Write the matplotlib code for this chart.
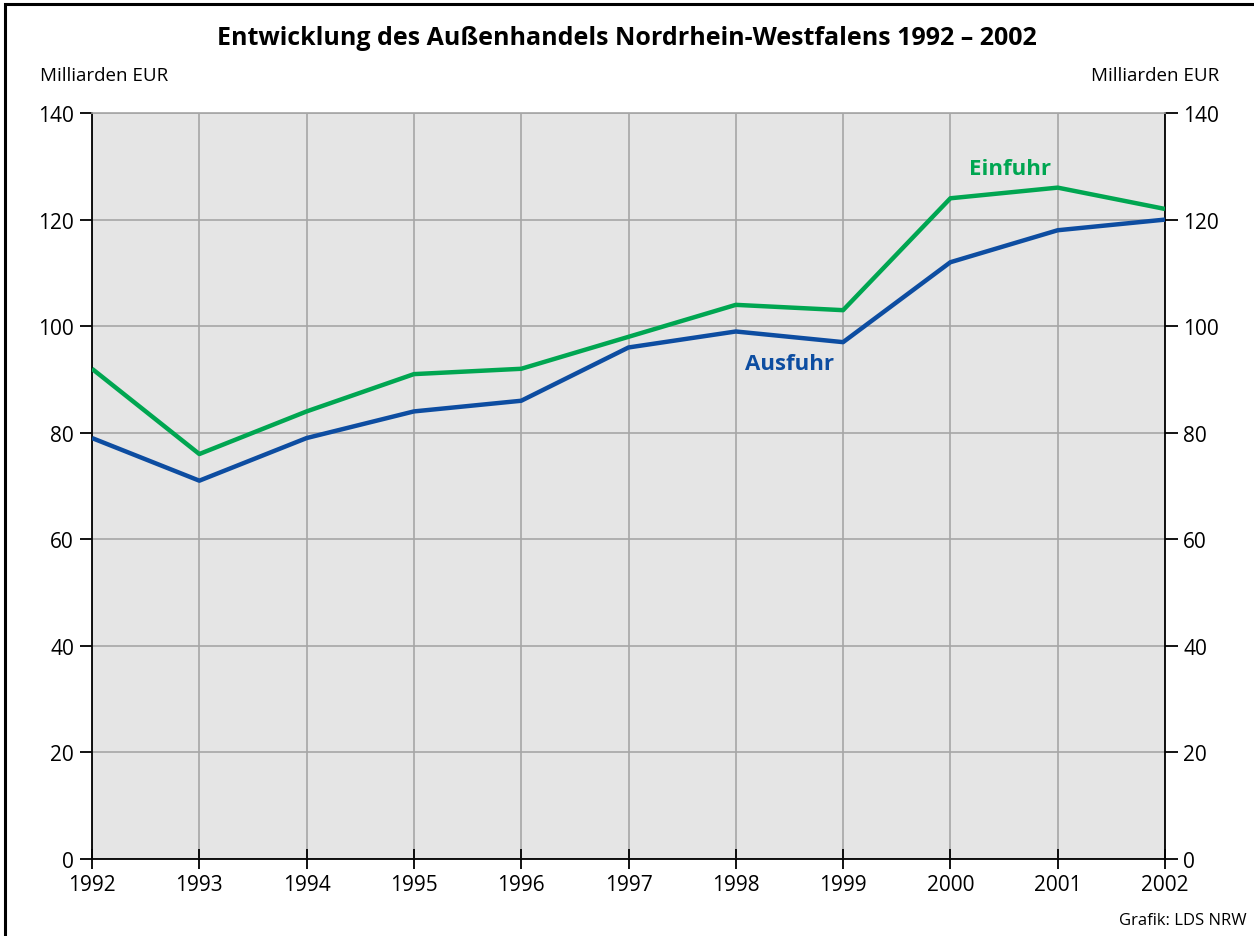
import matplotlib
matplotlib.use('Agg')
import matplotlib.pyplot as plt
from matplotlib.patches import Rectangle

plt.rcParams['font.family'] = ['Open Sans', 'DejaVu Sans']

years = [1992, 1993, 1994, 1995, 1996, 1997, 1998, 1999, 2000, 2001, 2002]
einfuhr = [92, 76, 84, 91, 92, 98, 104, 103, 124, 126, 122]
ausfuhr = [79, 71, 79, 84, 86, 96, 99, 97, 112, 118, 120]
yticks = [0, 20, 40, 60, 80, 100, 120, 140]

green = '#00a651'
blue = '#0d4da1'

fig = plt.figure(figsize=(12.54, 9.37), dpi=100)
ax = fig.add_axes([0.0734, 0.0822, 0.8556, 0.7961])
ax.set_facecolor('#e5e5e5')

ax.plot(years, einfuhr, color=green, lw=3.2, solid_capstyle='butt', zorder=3)
ax.plot(years, ausfuhr, color=blue, lw=3.2, solid_capstyle='butt', zorder=3)

ax.set_xlim(1992, 2002)
ax.set_ylim(0, 140)
ax.set_xticks(years)
ax.set_yticks(yticks)
ax.grid(True, color='#a6a6a6', lw=1.2, zorder=1)
ax.set_axisbelow(True)

ax.spines['top'].set_color('#a6a6a6')
ax.spines['top'].set_linewidth(1.2)
for s in ['left', 'right', 'bottom']:
    ax.spines[s].set_color('black')
    ax.spines[s].set_linewidth(1.3)

ax.tick_params(axis='y', which='both', left=True, right=True, labelleft=True,
               labelright=True, direction='out', length=9, width=1.3,
               labelsize=15, pad=4)
ax.tick_params(axis='x', direction='inout', length=14, width=1.3,
               labelsize=15, pad=4)

ax.text(2000.56, 129.5, 'Einfuhr', color=green, fontsize=16, fontweight='bold',
        ha='center', va='center')
ax.text(1998.5, 92.9, 'Ausfuhr', color=blue, fontsize=16, fontweight='bold',
        ha='center', va='center')

fig.text(0.5, 0.959, 'Entwicklung des Außenhandels Nordrhein-Westfalens 1992 – 2002',
         ha='center', va='center', fontsize=18, fontweight='bold')
fig.text(0.032, 0.919, 'Milliarden EUR', ha='left', va='center', fontsize=13.5)
fig.text(0.972, 0.919, 'Milliarden EUR', ha='right', va='center', fontsize=13.5)
fig.text(0.994, 0.0175, 'Grafik: LDS NRW', ha='right', va='center', fontsize=12)

# frame around the chart (right and bottom edges lie outside the image)
fig.add_artist(Rectangle((5 / 1254, -0.05), 1.2, 0.05 + (937 - 5) / 937,
                         transform=fig.transFigure, fill=False,
                         edgecolor='black', lw=2.2))

fig.savefig('out.png', dpi=100)
